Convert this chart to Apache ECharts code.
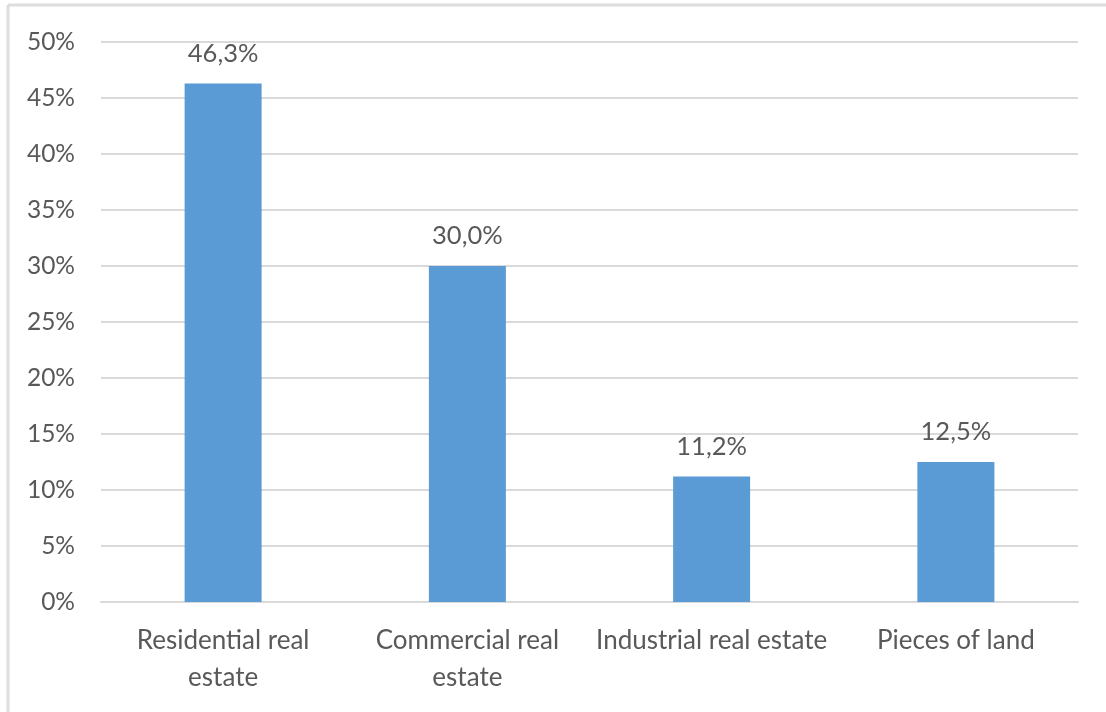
<!DOCTYPE html>
<html>
<head>
<meta charset="utf-8">
<script src="https://cdn.jsdelivr.net/npm/echarts@6/dist/echarts.min.js"></script>
<style>
  html, body { margin: 0; padding: 0; background: #ffffff; }
  #chart { width: 1106px; height: 712px; }
</style>
</head>
<body>
<div id="chart"></div>
<script>
// Share of transactions by property type (%)
const categories = ['Residential real\nestate', 'Commercial real\nestate', 'Industrial real estate', 'Pieces of land'];
const shares = [46.3, 30.0, 11.2, 12.5];
const yTicks = [0, 5, 10, 15, 20, 25, 30, 35, 40, 45, 50];

const textColor = '#595959';
const fontFamily = 'Lato, "Open Sans", sans-serif';

const chart = echarts.init(document.getElementById('chart'));

chart.setOption({
  animation: false,
  backgroundColor: '#ffffff',
  grid: { left: 101, right: 28, top: 42, bottom: 110 },
  xAxis: {
    type: 'category',
    data: categories,
    axisLine: { show: true, lineStyle: { color: '#D9D9D9', width: 2 } },
    axisTick: { show: false },
    axisLabel: {
      color: textColor,
      fontFamily: fontFamily,
      fontSize: 26,
      lineHeight: 37,
      margin: 20,
      interval: 0
    }
  },
  yAxis: {
    type: 'value',
    min: yTicks[0],
    max: yTicks[yTicks.length - 1],
    interval: yTicks[1] - yTicks[0],
    axisLine: { show: false },
    axisTick: { show: false },
    splitLine: { lineStyle: { color: '#D9D9D9', width: 2 } },
    axisLabel: {
      color: textColor,
      fontFamily: fontFamily,
      fontSize: 24.5,
      margin: 26,
      formatter: v => v + '%'
    }
  },
  series: [{
    type: 'bar',
    data: shares,
    barWidth: 77,
    itemStyle: { color: '#5B9BD5' },
    label: {
      show: true,
      position: 'top',
      distance: 17,
      color: textColor,
      fontFamily: fontFamily,
      fontSize: 25.5,
      formatter: p => p.value.toFixed(1).replace('.', ',') + '%'
    }
  }],
  graphic: [
    { type: 'line', shape: { x1: 8, y1: 5, x2: 1106, y2: 5 }, style: { stroke: '#DDDDDD', lineWidth: 3 }, silent: true },
    { type: 'line', shape: { x1: 8, y1: 5, x2: 8, y2: 712 }, style: { stroke: '#DDDDDD', lineWidth: 3 }, silent: true }
  ]
});
</script>
</body>
</html>
